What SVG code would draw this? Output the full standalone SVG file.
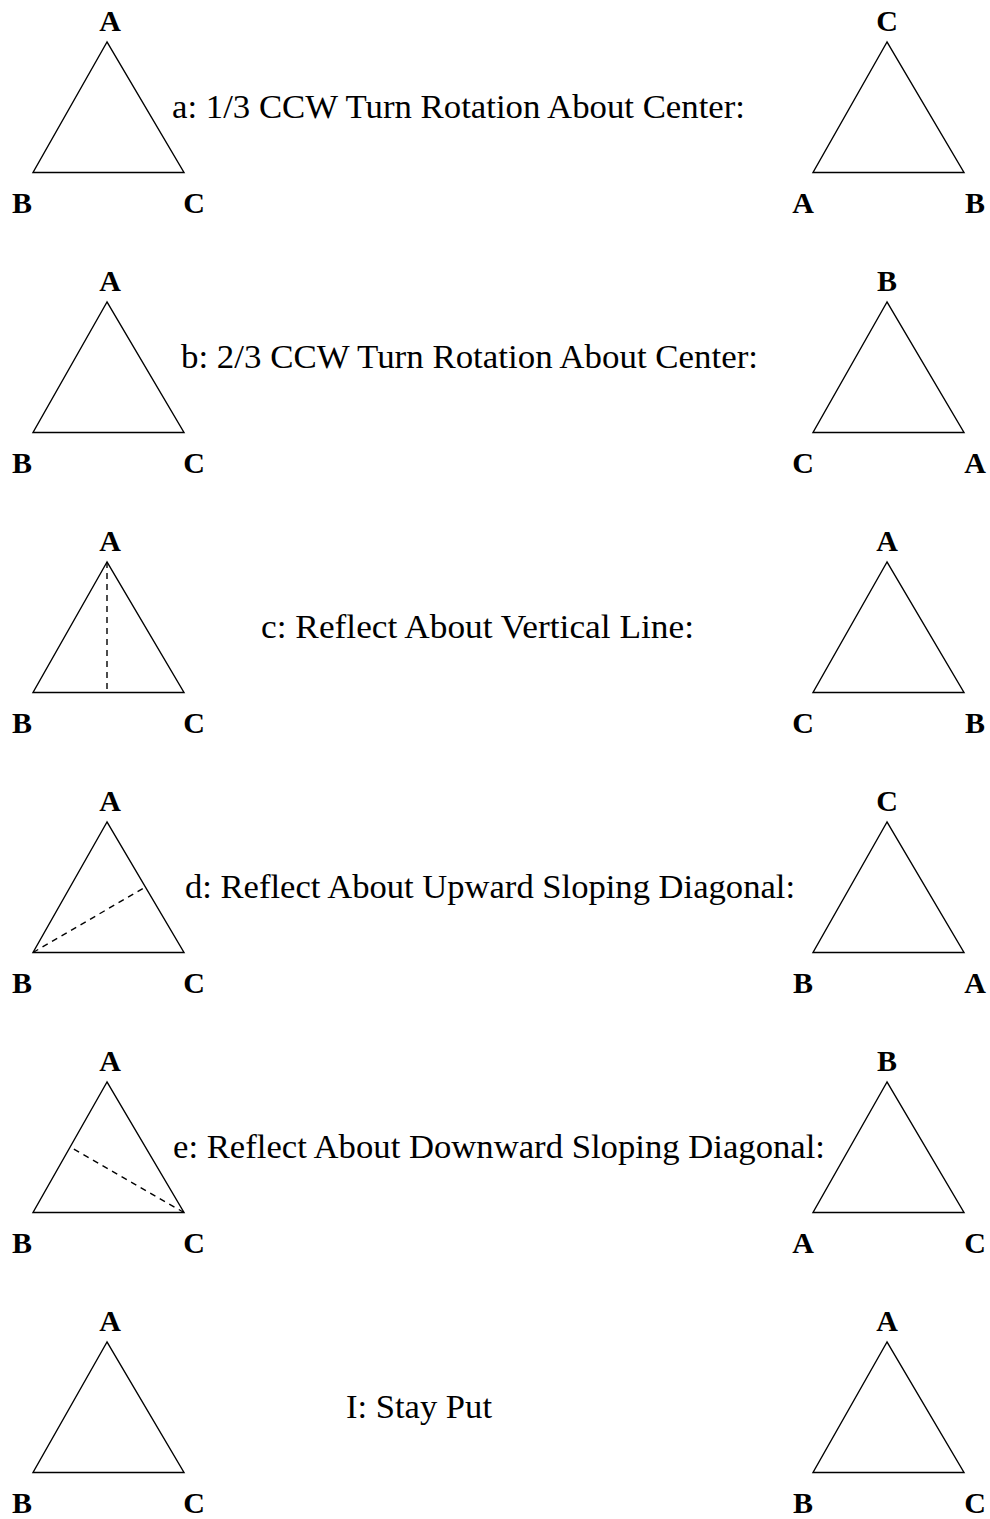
<svg xmlns="http://www.w3.org/2000/svg" width="990" height="1519" viewBox="0 0 990 1519">
<style>
.tri{fill:none;stroke:#000;stroke-width:1.4;stroke-linejoin:miter}
.dash{fill:none;stroke:#000;stroke-width:1.4;stroke-dasharray:6 5}
.lbl{font-family:"Liberation Serif","Times New Roman",serif;font-size:30px;font-weight:bold;text-anchor:middle;fill:#000}
.cap{font-family:"Liberation Serif","Times New Roman",serif;font-size:34px;fill:#000}
</style>
<defs>
<polygon id="t" class="tri" points="107,42 33,172.5 184,172.5"/>
</defs>
<rect width="990" height="1519" fill="#fff"/>

<g id="row-a">
  <g id="a-left"><use href="#t"/><text class="lbl" x="110" y="31">A</text><text class="lbl" x="22" y="213">B</text><text class="lbl" x="194" y="213">C</text></g>
  <text id="a-caption" class="cap" x="172" y="118" textLength="573" lengthAdjust="spacingAndGlyphs">a: 1/3 CCW Turn Rotation About Center:</text>
  <g id="a-right"><use href="#t" x="780"/><text class="lbl" x="887" y="31">C</text><text class="lbl" x="803" y="213">A</text><text class="lbl" x="975" y="213">B</text></g>
</g>

<g id="row-b" transform="translate(0,260)">
  <g id="b-left"><use href="#t"/><text class="lbl" x="110" y="31">A</text><text class="lbl" x="22" y="213">B</text><text class="lbl" x="194" y="213">C</text></g>
  <text id="b-caption" class="cap" x="181" y="108" textLength="577" lengthAdjust="spacingAndGlyphs">b: 2/3 CCW Turn Rotation About Center:</text>
  <g id="b-right"><use href="#t" x="780"/><text class="lbl" x="887" y="31">B</text><text class="lbl" x="803" y="213">C</text><text class="lbl" x="975" y="213">A</text></g>
</g>

<g id="row-c" transform="translate(0,520)">
  <g id="c-left"><use href="#t"/><line class="dash" x1="107" y1="42" x2="107" y2="172.5"/><text class="lbl" x="110" y="31">A</text><text class="lbl" x="22" y="213">B</text><text class="lbl" x="194" y="213">C</text></g>
  <text id="c-caption" class="cap" x="261" y="118" textLength="433" lengthAdjust="spacingAndGlyphs">c: Reflect About Vertical Line:</text>
  <g id="c-right"><use href="#t" x="780"/><text class="lbl" x="887" y="31">A</text><text class="lbl" x="803" y="213">C</text><text class="lbl" x="975" y="213">B</text></g>
</g>

<g id="row-d" transform="translate(0,780)">
  <g id="d-left"><use href="#t"/><line class="dash" x1="33" y1="172.5" x2="145.5" y2="107"/><text class="lbl" x="110" y="31">A</text><text class="lbl" x="22" y="213">B</text><text class="lbl" x="194" y="213">C</text></g>
  <text id="d-caption" class="cap" x="185" y="118" textLength="610" lengthAdjust="spacingAndGlyphs">d: Reflect About Upward Sloping Diagonal:</text>
  <g id="d-right"><use href="#t" x="780"/><text class="lbl" x="887" y="31">C</text><text class="lbl" x="803" y="213">B</text><text class="lbl" x="975" y="213">A</text></g>
</g>

<g id="row-e" transform="translate(0,1040)">
  <g id="e-left"><use href="#t"/><line class="dash" x1="184" y1="172.5" x2="70" y2="107"/><text class="lbl" x="110" y="31">A</text><text class="lbl" x="22" y="213">B</text><text class="lbl" x="194" y="213">C</text></g>
  <text id="e-caption" class="cap" x="173" y="118" textLength="652" lengthAdjust="spacingAndGlyphs">e: Reflect About Downward Sloping Diagonal:</text>
  <g id="e-right"><use href="#t" x="780"/><text class="lbl" x="887" y="31">B</text><text class="lbl" x="803" y="213">A</text><text class="lbl" x="975" y="213">C</text></g>
</g>

<g id="row-i" transform="translate(0,1300)">
  <g id="i-left"><use href="#t"/><text class="lbl" x="110" y="31">A</text><text class="lbl" x="22" y="213">B</text><text class="lbl" x="194" y="213">C</text></g>
  <text id="i-caption" class="cap" x="346" y="118" textLength="146" lengthAdjust="spacingAndGlyphs">I: Stay Put</text>
  <g id="i-right"><use href="#t" x="780"/><text class="lbl" x="887" y="31">A</text><text class="lbl" x="803" y="213">B</text><text class="lbl" x="975" y="213">C</text></g>
</g>

<g id="connectors"/>
</svg>
